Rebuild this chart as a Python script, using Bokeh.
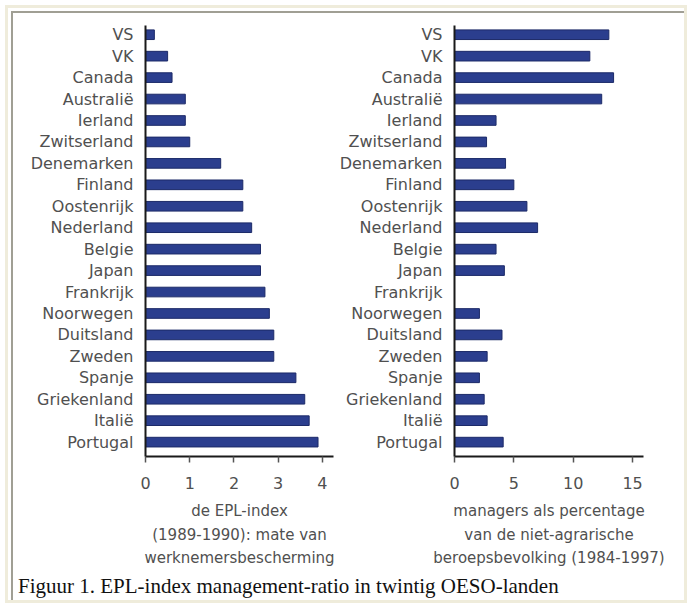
from bokeh.plotting import figure
from bokeh.models import Range1d, FixedTicker, Title, Div, ColumnDataSource
from bokeh.layouts import row, column
from bokeh.embed import file_html
from bokeh.resources import INLINE

countries = ["VS", "VK", "Canada", "Australië", "Ierland", "Zwitserland", "Denemarken",
             "Finland", "Oostenrijk", "Nederland", "Belgie", "Japan", "Frankrijk",
             "Noorwegen", "Duitsland", "Zweden", "Spanje", "Griekenland", "Italië", "Portugal"]
epl_index = [0.2, 0.5, 0.6, 0.9, 0.9, 1.0, 1.7, 2.2, 2.2, 2.4, 2.6, 2.6, 2.7,
             2.8, 2.9, 2.9, 3.4, 3.6, 3.7, 3.9]
manager_pct = [13.0, 11.4, 13.4, 12.4, 3.5, 2.7, 4.3, 5.0, 6.1, 7.0, 3.5, 4.2, float("nan"),
               2.1, 4.0, 2.75, 2.1, 2.5, 2.75, 4.1]
left_ticks = [0, 1, 2, 3, 4]
right_ticks = [0, 5, 10, 15]
left_title = ["de EPL-index", "(1989-1990): mate van", "werknemersbescherming"]
right_title = ["managers als percentage", "van de niet-agrarische", "beroepsbevolking (1984-1997)"]
caption = "Figuur 1. EPL-index management-ratio in twintig OESO-landen"

FONT = "DejaVu Sans"
FS = "16px"
FS_TITLE = "15px"
TXT = "#505050"
BAR = "#2b3e8e"
BAR_EDGE = "#1c2a68"

N = len(countries)
positions = list(range(N))
Y_START = N - 1 + 0.67
Y_END = -0.43
FIG_H = 574
TOP = 25
FRAME_H = 431


def make_panel(values, xmax, ticks, title_lines, width, left_border, right_border):
    p = figure(width=width, height=FIG_H, output_backend="svg", toolbar_location=None,
               x_range=Range1d(0, xmax), y_range=Range1d(Y_START, Y_END),
               min_border_left=left_border, min_border_right=right_border,
               min_border_top=TOP, min_border_bottom=FIG_H - TOP - FRAME_H, title=None)
    p.border_fill_color = None
    p.outline_line_color = None
    p.grid.visible = False
    src = ColumnDataSource(dict(y=positions, v=values))
    p.hbar(y="y", right="v", left=0, height=0.45, source=src,
           fill_color=BAR, line_color=BAR_EDGE, line_width=1)

    ya = p.yaxis[0]
    ya.ticker = FixedTicker(ticks=positions)
    ya.major_label_overrides = {i: c for i, c in enumerate(countries)}
    ya.major_tick_line_color = None
    ya.minor_tick_line_color = None
    ya.major_tick_out = 0
    ya.major_tick_in = 0
    ya.major_label_standoff = 12
    ya.axis_line_width = 2
    ya.axis_line_color = "#1a1a1a"
    ya.major_label_text_font = FONT
    ya.major_label_text_font_size = FS
    ya.major_label_text_color = TXT

    xa = p.xaxis[0]
    xa.ticker = FixedTicker(ticks=ticks)
    xa.minor_tick_line_color = None
    xa.major_tick_out = 6
    xa.major_tick_in = 0
    xa.major_tick_line_color = "#555555"
    xa.major_tick_line_width = 1.5
    xa.axis_line_width = 2
    xa.axis_line_color = "#1a1a1a"
    xa.major_label_standoff = 14
    xa.major_label_text_font = FONT
    xa.major_label_text_font_size = FS
    xa.major_label_text_color = TXT
    # small invisible spacer label to push the title lines down a little
    xa.axis_label = " "
    xa.axis_label_text_font_size = "3px"
    xa.axis_label_standoff = 0

    for line, so in zip(title_lines, [4, 3.5, 3]):
        p.add_layout(Title(text=line, align="center", standoff=so,
                           text_font=FONT, text_font_size=FS_TITLE, text_font_style="normal",
                           text_color=TXT), "below")
    return p


left = make_panel(epl_index, 4.25, left_ticks, left_title, 336, 145, 3)
right = make_panel(manager_pct, 15.92, right_ticks, right_title, 356, 118, 49)

cap = Div(text=('<div style="padding-left:18px;font-family:\'Liberation Serif\',serif;'
                'font-size:21px;line-height:24px;color:#111;white-space:nowrap;">'
                + caption + '</div>'),
          width=692, height=34, margin=0)

layout = column(row(left, right), cap,
                styles={"box-shadow": "inset 0 0 0 5px #ffffff, inset 0 0 0 8px #efecdb, "
                                      "inset 11px 11px 0 0 #ffffff, inset 13px 13px 0 0 #a09f94"})

open("out.html", "w").write(file_html(layout, INLINE))
